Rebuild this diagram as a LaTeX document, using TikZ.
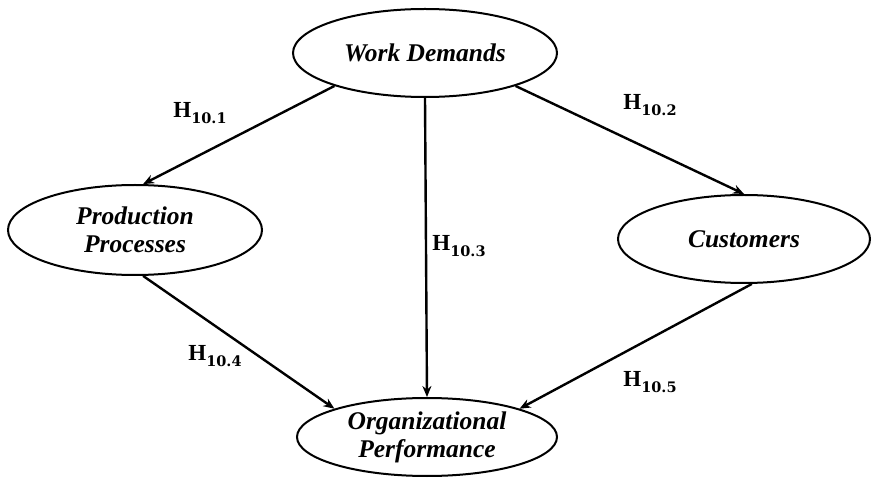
\documentclass[tikz,border=0pt]{standalone}
\usepackage{fontspec}
\setmainfont{Liberation Serif}[BoldItalicFont={* Bold Italic},BoldFont={* Bold}]
\newfontfamily\subfont{DejaVu Serif}
\usetikzlibrary{shapes.geometric,arrows.meta}
\newcommand{\hyp}[1]{\textbf{H}\raisebox{-6.5pt}{\subfont\bfseries\fontsize{14.5}{16}\selectfont #1}}
\begin{document}
\begin{tikzpicture}[x=1pt,y=-1pt,
  construct/.style={ellipse,draw,line width=2pt,inner sep=0pt,align=center,
    font=\fontsize{25.5}{28}\selectfont\bfseries\itshape},
  link/.style={line width=2.4pt,-{Stealth[length=11pt,width=9pt]}},
  hlabel/.style={font=\fontsize{23}{26}\selectfont}]
\useasboundingbox (0,0) rectangle (876,478);
\node[construct,minimum width=264pt,minimum height=88pt] (wd) at (425,53) {Work Demands};
\node[construct,minimum width=254pt,minimum height=90pt] (pp) at (135,230) {Production\\Processes};
\node[construct,minimum width=252pt,minimum height=88pt] (cu) at (744,239) {Customers};
\node[construct,minimum width=260pt,minimum height=78pt] (op) at (427,437) {Organizational\\Performance};
\draw[link] (wd.200) -- (pp.80);
\draw[link] (wd.340) -- (cu.90);
\draw[link] (wd.270) -- (op.90);
\draw[link] (pp.280) -- (op.163);
\draw[link] (cu.280) -- (op.17);
\node[hlabel] (h1) at (200,113) {\hyp{10.1}};
\node[hlabel] (h2) at (650,105) {\hyp{10.2}};
\node[hlabel] (h3) at (459,246) {\hyp{10.3}};
\node[hlabel] (h4) at (215,356) {\hyp{10.4}};
\node[hlabel] (h5) at (650,382) {\hyp{10.5}};
\end{tikzpicture}
\end{document}
